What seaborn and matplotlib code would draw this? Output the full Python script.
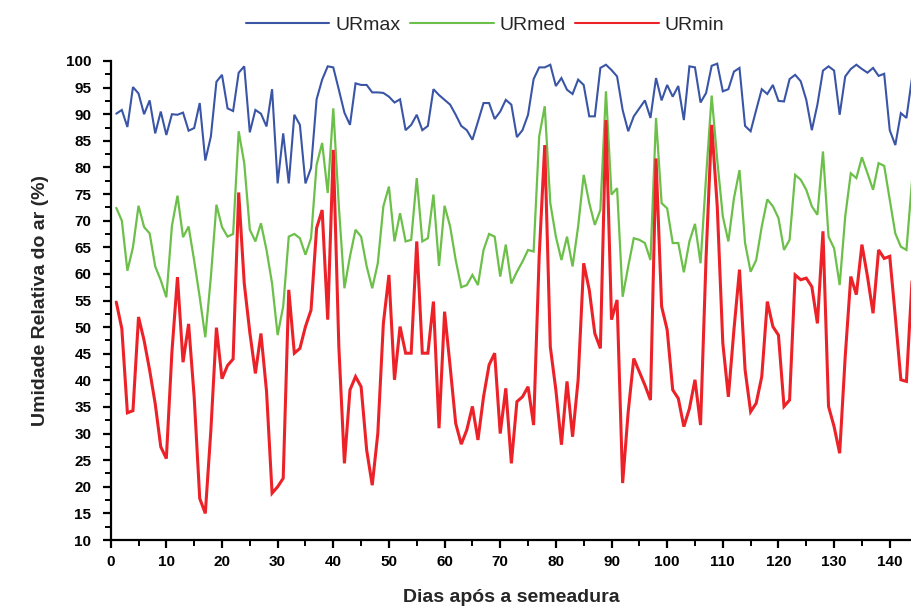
import matplotlib
matplotlib.use("Agg")
import numpy as np
import pandas as pd
import seaborn as sns
import matplotlib.pyplot as plt
from matplotlib.ticker import MultipleLocator
from matplotlib.lines import Line2D

days = list(range(1, 145))

ur_max = [90.1, 90.8, 87.6, 95.1, 93.9, 90.0, 92.6, 86.4, 90.5, 86.1,
          90.0, 89.9, 90.3, 86.9, 87.4, 92.1, 81.3, 85.8, 96.1, 97.4,
          91.1, 90.6, 97.8, 99.0, 86.6, 90.8, 90.1, 87.7, 94.7, 77.0,
          86.4, 77.0, 89.9, 88.0, 77.0, 79.9, 92.8, 96.5, 99.0, 98.8,
          94.6, 90.3, 88.0, 95.8, 95.5, 95.5, 94.1, 94.1, 94.0, 93.3,
          92.2, 92.8, 87.0, 88.0, 89.9, 87.0, 87.8, 94.7, 93.6, 92.7,
          91.8, 89.9, 87.8, 87.0, 85.2, 88.6, 92.1, 92.1, 89.1, 90.5,
          92.7, 91.8, 85.7, 87.0, 89.9, 96.6, 98.8, 98.8, 99.3, 95.3,
          96.8, 94.6, 93.8, 96.5, 95.5, 89.6, 89.6, 98.7, 99.3, 98.3,
          97.1, 90.8, 86.8, 89.6, 91.1, 92.6, 89.3, 96.8, 92.6, 95.5,
          93.3, 95.3, 88.9, 99.0, 98.8, 92.2, 94.0, 99.1, 99.5, 94.3,
          94.7, 98.0, 98.7, 87.8, 86.8, 90.8, 94.7, 93.8, 95.5, 92.5,
          92.4, 96.6, 97.4, 96.2, 92.7, 87.0, 91.8, 98.2, 99.0, 98.2,
          89.9, 97.1, 98.5, 99.3, 98.5, 97.8, 98.7, 97.2, 97.6, 87.0,
          84.2, 90.2, 89.3, 96.8]

ur_med = [72.4, 70.0, 60.6, 65.0, 72.8, 68.8, 67.6, 61.4, 58.8, 55.6,
          69.0, 74.7, 66.9, 68.9, 62.5, 55.6, 48.1, 59.4, 73.0, 68.8,
          67.0, 67.5, 86.8, 80.8, 68.3, 66.1, 69.5, 64.5, 58.2, 48.5,
          53.9, 67.0, 67.5, 66.7, 63.6, 66.7, 80.5, 84.6, 75.2, 91.1,
          72.7, 57.3, 63.3, 68.3, 67.0, 61.4, 57.3, 62.0, 72.7, 76.4,
          66.1, 71.4, 66.1, 66.4, 78.0, 66.1, 66.7, 74.9, 61.5, 72.8,
          68.9, 62.6, 57.5, 57.9, 59.8, 57.9, 64.5, 67.5, 67.0, 59.5,
          65.5, 58.2, 60.4, 62.3, 64.5, 64.2, 85.8, 91.5, 73.3, 67.0,
          62.6, 67.0, 61.4, 68.9, 78.6, 73.3, 69.2, 72.0, 94.3, 74.9,
          76.1, 55.7, 61.4, 66.7, 66.4, 65.8, 62.6, 89.3, 73.3, 72.3,
          65.8, 65.8, 60.3, 66.1, 69.4, 62.0, 78.3, 93.5, 81.4, 70.8,
          66.1, 74.2, 79.5, 65.8, 60.4, 62.6, 68.9, 74.0, 72.7, 70.5,
          64.5, 66.4, 78.6, 77.7, 75.8, 72.7, 71.1, 83.0, 67.0, 64.8,
          57.9, 70.8, 78.9, 78.0, 81.9, 78.9, 75.8, 80.8, 80.3, 73.9,
          67.6, 65.1, 64.5, 77.4]

ur_min = [54.7, 49.7, 33.9, 34.3, 51.9, 47.5, 41.9, 35.6, 27.5, 25.3,
          45.3, 59.4, 43.4, 50.6, 36.9, 17.8, 15.0, 30.6, 49.9, 40.3,
          42.8, 44.0, 75.3, 58.2, 49.0, 41.3, 48.8, 38.0, 18.8, 20.0,
          21.6, 57.0, 45.1, 46.0, 50.1, 53.2, 68.6, 72.0, 51.4, 83.3,
          46.3, 24.4, 38.2, 40.7, 38.8, 26.9, 20.3, 30.0, 50.7, 59.8,
          40.1, 50.1, 45.1, 45.1, 66.1, 45.1, 45.1, 54.8, 31.0, 52.9,
          42.6, 31.9, 28.0, 30.7, 35.1, 28.8, 36.9, 42.9, 45.1, 30.0,
          38.5, 24.4, 36.0, 36.9, 38.8, 31.6, 63.3, 84.2, 46.3, 38.2,
          27.9, 39.8, 29.4, 40.1, 62.0, 57.0, 48.8, 46.0, 88.9, 51.4,
          55.1, 20.7, 34.1, 44.1, 41.6, 39.1, 36.3, 81.7, 53.9, 49.5,
          38.2, 36.6, 31.3, 34.7, 40.1, 31.6, 63.3, 88.0, 72.7, 47.0,
          36.9, 49.5, 60.8, 42.0, 34.1, 35.7, 40.7, 54.8, 50.1, 48.5,
          35.1, 36.3, 59.8, 58.9, 59.2, 57.6, 50.7, 68.0, 35.1, 31.3,
          26.3, 44.5, 59.5, 56.1, 65.5, 59.5, 52.6, 64.5, 62.9, 63.3,
          52.0, 40.1, 39.8, 58.6]

series_names = ["URmax", "URmed", "URmin"]
colors = ["#3A55A6", "#6CC04A", "#EC2228"]
widths = [1.5, 1.6, 2.2]

df = pd.DataFrame({
    "Dia": days * 3,
    "UR": ur_max + ur_med + ur_min,
    "Serie": [n for n in series_names for _ in days],
})

sns.set_style("ticks")
plt.rcParams["font.family"] = ["Liberation Sans", "DejaVu Sans"]

fig = plt.figure(figsize=(9.12, 6.08), dpi=100)
ax = fig.add_axes([110.7 / 912, 1 - 540 / 608, 1 - 110.7 / 912, (540 - 61) / 608])

sns.lineplot(data=df, x="Dia", y="UR", hue="Serie", hue_order=series_names,
             palette=dict(zip(series_names, colors)), estimator=None,
             sort=False, legend=False, ax=ax)
for line, w in zip(ax.lines, widths):
    line.set_linewidth(w)
    line.set_solid_joinstyle("miter")
    line.set_clip_on(False)

ax.set_xlim(0, 144)
ax.set_ylim(10, 100)
ax.xaxis.set_major_locator(MultipleLocator(10))
ax.xaxis.set_minor_locator(MultipleLocator(5))
ax.yaxis.set_major_locator(MultipleLocator(5))
ax.yaxis.set_minor_locator(MultipleLocator(2.5))
ax.set_xticks([t for t in range(0, 141, 10)])

for s in ["top", "right"]:
    ax.spines[s].set_visible(False)
for s in ["left", "bottom"]:
    ax.spines[s].set_linewidth(1.6)
    ax.spines[s].set_color("black")

ax.tick_params(axis="both", which="major", direction="out", length=6, width=1.6,
               colors="black", labelsize=11)
ax.tick_params(axis="both", which="minor", direction="out", length=4, width=1.4,
               colors="black")
ax.tick_params(axis="y", pad=8)
ax.tick_params(axis="x", pad=5)
for lab in ax.get_xticklabels() + ax.get_yticklabels():
    lab.set_fontweight("bold")

ax.set_xlabel("Dias após a semeadura", fontsize=14, fontweight="bold", labelpad=14)
ax.set_ylabel("Umidade Relativa do ar (%)", fontsize=14, fontweight="bold", labelpad=12)

handles = [Line2D([0], [0], color=c, lw=1.5) for c in colors]
fig.legend(handles, series_names, loc="center", bbox_to_anchor=(485 / 912, 1 - 25 / 608),
           ncol=3, frameon=False, handlelength=4.3, columnspacing=0.5,
           handletextpad=0.3,
           prop={"family": ["Liberation Sans Narrow", "Liberation Sans"], "size": 14})

fig.savefig("out.png", dpi=100)
